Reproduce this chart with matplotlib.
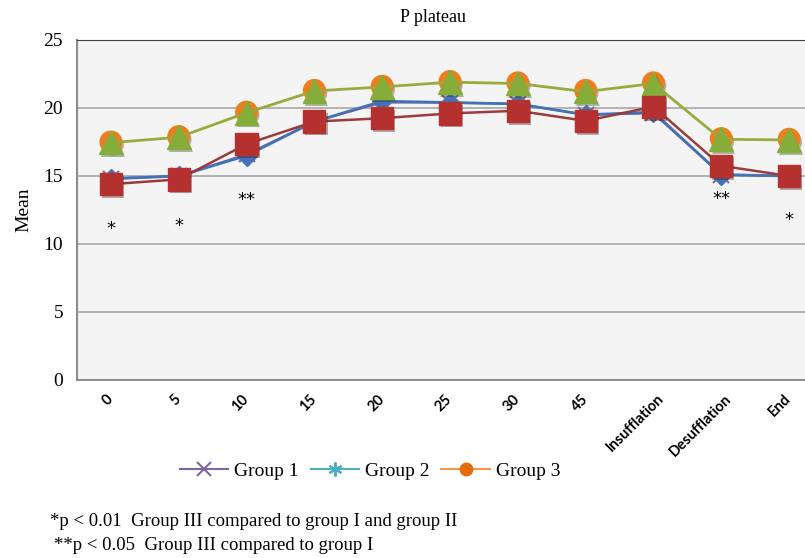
import numpy as np
import matplotlib
matplotlib.use("Agg")
import matplotlib.pyplot as plt
import matplotlib.patheffects as pe
from matplotlib.lines import Line2D
from matplotlib.transforms import ScaledTranslation

# data
cats = ["0", "5", "10", "15", "20", "25", "30", "45",
        "Insufflation", "Desufflation", "End"]
group1 = [14.8, 15.0, 16.6, 19.0, 20.4, 20.4, 20.3, 19.5, 19.6, 15.1, 15.0]
group2 = [14.8, 15.0, 16.5, 19.0, 20.5, 20.4, 20.3, 19.5, 19.7, 15.1, 15.0]
group3 = [17.5, 17.9, 19.7, 21.3, 21.6, 21.95, 21.85, 21.3, 21.85, 17.75, 17.7]
group3b = [17.45, 17.85, 19.65, 21.25, 21.55, 21.9, 21.8, 21.2, 21.8, 17.7, 17.65]
group1b = [14.4, 14.75, 17.35, 19.0, 19.25, 19.6, 19.8, 19.05, 20.1, 15.75, 15.0]
marks = {0: ("*", 11.1), 1: ("*", 11.3), 2: ("**", 13.2),
         9: ("**", 13.3), 10: ("*", 11.8)}

W, H = 805, 558
fig = plt.figure(figsize=(W / 100, H / 100), dpi=100)
ax = fig.add_axes([77 / W, 1 - 380 / H, (823 - 77) / W, 340 / H])
ax.set_facecolor("#f4f4f4")

x = np.arange(len(cats))
shadow = [pe.SimplePatchShadow(offset=(1.5, -2), alpha=0.35), pe.Normal()]

ax.plot(x, group1, color="#8064a2", lw=1.5, marker="x", ms=12, mew=1.5, zorder=3)
ax.plot(x, group2, color="#4472b5", lw=2, zorder=4)
ax.plot(x, group2, ls="none", marker="D", ms=10, color="#4472b5", zorder=4)
ax.plot(x, group3, ls="none", marker="o", ms=15.5, color="#ee7d1e", zorder=5,
        path_effects=shadow)
ax.plot(x, group3b, color="#9aaa3c", lw=2, zorder=6)
ax.plot(x, group3b, ls="none", marker="^", ms=17, color="#85ad3a", zorder=6,
        path_effects=shadow)
ax.plot(x, group1b, color="#9c3b3b", lw=1.8, zorder=7)
ax.plot(x, group1b, ls="none", marker="s", ms=16, color="#b5312f", zorder=7,
        path_effects=shadow)

for i, (s, yv) in marks.items():
    ax.text(i, yv, s, ha="center", va="center", fontsize=13, color="black",
            family="DejaVu Sans")

ax.set_xlim(-0.5, len(cats) - 0.5)
ax.set_ylim(0, 25)
ax.set_yticks([0, 5, 10, 15, 20, 25])
ax.yaxis.grid(True, color="#a6a6a6", lw=1.2)
ax.set_axisbelow(True)
ax.spines["right"].set_visible(False)
ax.spines["top"].set_color("#404040")
ax.spines["left"].set_color("#8c8c8c")
ax.spines["bottom"].set_color("#8c8c8c")
ax.spines["left"].set_linewidth(1.5)
ax.spines["bottom"].set_linewidth(1.5)
ax.tick_params(axis="y", length=0, labelsize=14, pad=10)
ax.tick_params(axis="x", length=0)
for t in ax.get_yticklabels():
    t.set_family("Liberation Serif")

ax.set_xticks(x)
ax.set_xticklabels(cats, rotation=45, ha="right", rotation_mode="anchor",
                   fontsize=10.5, fontweight="bold", family="Lato")
for t in ax.get_xticklabels():
    dx = 3 if len(t.get_text()) > 5 else -5
    off = ScaledTranslation(dx / 100, -7 / 100, fig.dpi_scale_trans)
    t.set_transform(t.get_transform() + off)

ax.set_ylabel("Mean", family="Liberation Serif", fontsize=14, labelpad=8)
fig.text(433 / W, 1 - 18 / H, "P plateau", ha="center", va="center",
         family="Liberation Serif", fontsize=13)

handles = [
    Line2D([], [], color="#8064a2", marker="x", ms=10, mew=1.5, lw=1.5),
    Line2D([], [], color="#4bacc6", marker=(6, 2, 0), ms=10, mew=1.5, lw=1.5),
    Line2D([], [], color="#f79646", marker="o", mfc="#e46c0a", mec="#e46c0a",
           ms=9, lw=1.5),
]
fig.legend(handles, ["Group 1", "Group 2", "Group 3"], loc="center",
           bbox_to_anchor=(370 / W, 1 - 471 / H), ncol=3, frameon=False,
           prop={"family": "Liberation Serif", "size": 14},
           handlelength=2.5, handletextpad=0.3, columnspacing=0.6)

fig.text(50 / W, 1 - 521 / H, "*p < 0.01  Group III compared to group I and group II",
         family="Liberation Serif", fontsize=13.5, va="center")
fig.text(54 / W, 1 - 546 / H, "**p < 0.05  Group III compared to group I",
         family="Liberation Serif", fontsize=13.5, va="center")

fig.savefig("out.png", dpi=100)
